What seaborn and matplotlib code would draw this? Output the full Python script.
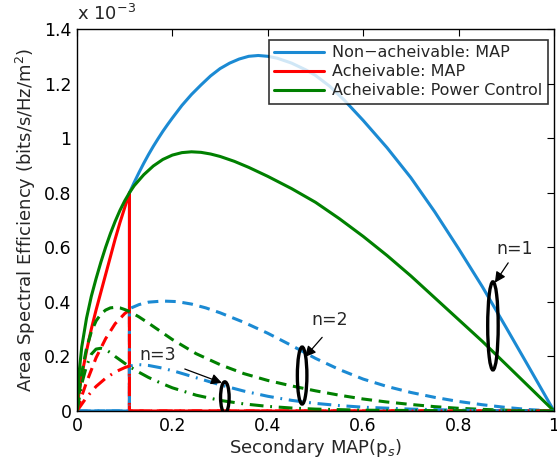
import numpy as np
import matplotlib
matplotlib.use("Agg")
import matplotlib.pyplot as plt
import seaborn as sns
from matplotlib.patches import Ellipse
from matplotlib.ticker import FuncFormatter

sns.set_style("white")
plt.rcParams['font.family'] = ['DejaVu Sans']

# values in units of 1e-3 bits/s/Hz/m^2
# n = 1
blue1_x = [0, 0.11, 0.11, 0.12, 0.13, 0.14, 0.15, 0.16, 0.17, 0.18, 0.19, 0.2, 0.22, 0.24,
           0.26, 0.28, 0.3, 0.32, 0.34, 0.36, 0.38, 0.4, 0.42, 0.45, 0.48, 0.5, 0.53, 0.56,
           0.6, 0.65, 0.7, 0.75, 0.8, 0.85, 0.9, 0.95, 1.0]
blue1_y = [0, 0, 0.80, 0.838, 0.874, 0.908, 0.94, 0.97, 0.998, 1.025, 1.05, 1.074, 1.12, 1.16,
           1.195, 1.228, 1.255, 1.275, 1.29, 1.30, 1.303, 1.30, 1.293, 1.275, 1.25, 1.23,
           1.19, 1.14, 1.065, 0.965, 0.855, 0.73, 0.595, 0.455, 0.305, 0.153, 0]
red1_x = [0, 0.005, 0.01, 0.02, 0.03, 0.04, 0.05, 0.06, 0.07, 0.08, 0.09, 0.1, 0.11, 0.11, 1.0]
red1_y = [0, 0.08, 0.13, 0.22, 0.30, 0.37, 0.435, 0.50, 0.565, 0.63, 0.69, 0.745, 0.80, 0, 0]
green1_x = [0, 0.005, 0.01, 0.02, 0.03, 0.04, 0.05, 0.06, 0.07, 0.08, 0.09, 0.1, 0.11, 0.12,
            0.14, 0.16, 0.18, 0.2, 0.22, 0.24, 0.26, 0.28, 0.3, 0.33, 0.36, 0.4, 0.45, 0.5,
            0.55, 0.6, 0.65, 0.7, 0.75, 0.8, 0.85, 0.9, 0.95, 1.0]
green1_y = [0, 0.15, 0.235, 0.34, 0.42, 0.485, 0.545, 0.60, 0.65, 0.695, 0.735, 0.77, 0.80,
            0.826, 0.866, 0.898, 0.922, 0.938, 0.947, 0.95, 0.948, 0.942, 0.933, 0.915,
            0.893, 0.86, 0.815, 0.765, 0.705, 0.64, 0.57, 0.495, 0.415, 0.335, 0.255, 0.17,
            0.085, 0]

# n = 2
blue2_x = [0, 0.11, 0.11, 0.13, 0.15, 0.18, 0.21, 0.24, 0.27, 0.3, 0.35, 0.4, 0.45, 0.5,
           0.55, 0.6, 0.65, 0.7, 0.75, 0.8, 0.85, 0.9, 0.95, 1.0]
blue2_y = [0, 0, 0.375, 0.39, 0.399, 0.403, 0.401, 0.392, 0.378, 0.36, 0.325, 0.285, 0.24,
           0.193, 0.152, 0.117, 0.09, 0.068, 0.05, 0.035, 0.023, 0.013, 0.005, 0]
red2_x = [0, 0.01, 0.02, 0.04, 0.06, 0.08, 0.1, 0.11, 0.11, 1.0]
red2_y = [0, 0.055, 0.105, 0.195, 0.265, 0.32, 0.357, 0.37, 0, 0]
green2_x = [0, 0.01, 0.02, 0.03, 0.04, 0.05, 0.06, 0.07, 0.08, 0.09, 0.1, 0.11, 0.13, 0.15,
            0.175, 0.2, 0.25, 0.3, 0.35, 0.4, 0.45, 0.5, 0.55, 0.6, 0.65, 0.7, 0.75, 0.8,
            0.85, 0.9, 0.95, 1.0]
green2_y = [0, 0.14, 0.23, 0.29, 0.33, 0.355, 0.37, 0.378, 0.38, 0.378, 0.372, 0.365, 0.345,
            0.322, 0.292, 0.262, 0.21, 0.17, 0.137, 0.112, 0.092, 0.074, 0.058, 0.044,
            0.033, 0.024, 0.016, 0.01, 0.006, 0.003, 0.001, 0]

# n = 3
blue3_x = [0, 0.11, 0.11, 0.13, 0.15, 0.18, 0.21, 0.25, 0.3, 0.35, 0.4, 0.45, 0.5, 0.55,
           0.6, 0.7, 0.8, 0.9, 1.0]
blue3_y = [0, 0, 0.165, 0.17, 0.167, 0.157, 0.143, 0.122, 0.096, 0.073, 0.054, 0.039, 0.028,
           0.02, 0.014, 0.007, 0.003, 0.001, 0]
red3_x = [0, 0.01, 0.02, 0.04, 0.06, 0.08, 0.1, 0.11, 0.11, 1.0]
red3_y = [0, 0.025, 0.05, 0.09, 0.12, 0.143, 0.159, 0.165, 0, 0]
green3_x = [0, 0.01, 0.02, 0.03, 0.04, 0.05, 0.06, 0.07, 0.08, 0.1, 0.11, 0.13, 0.15, 0.175,
            0.2, 0.25, 0.3, 0.35, 0.4, 0.45, 0.5, 0.6, 0.8, 1.0]
green3_y = [0, 0.10, 0.165, 0.208, 0.227, 0.23, 0.225, 0.214, 0.2, 0.175, 0.163, 0.142,
            0.123, 0.103, 0.085, 0.058, 0.039, 0.026, 0.017, 0.011, 0.007, 0.003, 0.001, 0]

legend_labels = ['Non\u2212acheivable: MAP', 'Acheivable: MAP', 'Acheivable: Power Control']

BLUE = '#1b8ad3'
RED = '#ff0000'
GREEN = '#008000'

fig = plt.figure(figsize=(5.57, 4.75), dpi=100)
ax = fig.add_axes([0.1382, 0.1347, 0.8564, 0.8042])

styles = {1: '-', 2: (0, (3.5, 2.2)), 3: (0, (4.5, 2.2, 0.6, 2.2))}
series = [
    (1, blue1_x, blue1_y, red1_x, red1_y, green1_x, green1_y),
    (2, blue2_x, blue2_y, red2_x, red2_y, green2_x, green2_y),
    (3, blue3_x, blue3_y, red3_x, red3_y, green3_x, green3_y),
]
for n, bx, by, rx, ry, gx, gy in series:
    for xs, ys, c in [(bx, by, BLUE), (rx, ry, RED), (gx, gy, GREEN)]:
        sns.lineplot(x=xs, y=ys, ax=ax, color=c, lw=2.2, linestyle=styles[n],
                     estimator=None, sort=False, legend=False)

lines = ax.get_lines()[:3]
leg = ax.legend(lines, legend_labels, loc='upper right', bbox_to_anchor=(0.987, 0.972),
                fontsize=11.5, frameon=True, fancybox=False, handlelength=3.1,
                borderpad=0.35, labelspacing=0.25, handletextpad=0.5, borderaxespad=0)
leg.get_frame().set_edgecolor('black')
leg.get_frame().set_linewidth(1.2)

# annotations: ellipses and arrows
for cx, cy, w, h in [(0.872, 0.312, 0.022, 0.323), (0.472, 0.13, 0.02, 0.209),
                     (0.31, 0.05, 0.018, 0.114)]:
    ax.add_patch(Ellipse((cx, cy), w, h, fill=False, ec='black', lw=2.4, zorder=5))

for label, txy, tip, tail in [('n=1', (0.918, 0.594), (0.876, 0.47), (0.904, 0.543)),
                              ('n=2', (0.530, 0.334), (0.478, 0.198), (0.514, 0.27)),
                              ('n=3', (0.17, 0.205), (0.304, 0.103), (0.226, 0.154))]:
    ax.text(txy[0], txy[1], label, fontsize=12.5, ha='center', va='center')
    ax.annotate('', xy=tip, xytext=tail,
                arrowprops=dict(arrowstyle='-|>', color='black', lw=0.9,
                                mutation_scale=16, shrinkA=0, shrinkB=0))

ax.set_xlim(0, 1)
ax.set_ylim(0, 1.4)
ax.set_xticks(np.arange(0, 1.01, 0.2))
ax.set_yticks(np.arange(0, 1.41, 0.2))
fmt = FuncFormatter(lambda v, p: '%g' % round(v, 2))
ax.xaxis.set_major_formatter(fmt)
ax.yaxis.set_major_formatter(fmt)
ax.tick_params(direction='in', length=5, width=0.8, top=True, right=True,
               labelsize=12.5, colors='black', pad=4)
for s in ax.spines.values():
    s.set_visible(True)
    s.set_color('black')
    s.set_linewidth(1.0)

ax.set_xlabel('Secondary MAP(p$_s$)', fontsize=13, labelpad=2)
ax.set_ylabel('Area Spectral Efficiency (bits/s/Hz/m$^2$)', fontsize=13, labelpad=4)
ax.text(0.0, 1.012, 'x 10$^{-3}$', transform=ax.transAxes, fontsize=13,
        ha='left', va='bottom')

fig.savefig('out.png', dpi=100)
